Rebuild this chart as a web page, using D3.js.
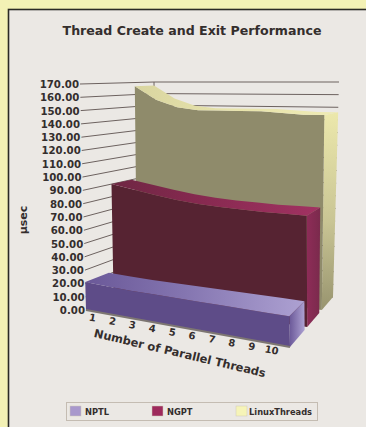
<!DOCTYPE html>
<html>
<head>
<meta charset="utf-8">
<script src="https://cdn.jsdelivr.net/npm/d3@7"></script>
<style>
html,body{margin:0;padding:0;background:#f3f1b5;}
svg{display:block;}
text{font-family:"DejaVu Sans",sans-serif;fill:#342e2d;}
</style>
</head>
<body>
<svg id="chart" width="366" height="427"></svg>
<script>
// Thread counts along the floor and creation/exit cost in microseconds per library.
const threads = [1, 2, 3, 4, 5, 6, 7, 8, 9, 10];
const nptl = [21, 20.5, 20, 20, 20, 20, 20, 20, 20, 20];
const ngpt = [90, 87, 84, 81.5, 80, 79, 78.5, 78, 78, 78];
const linuxThreads = [167, 156, 150, 148, 148, 148, 148, 147, 146, 146];
const yTicks = d3.range(0, 171, 10);
const seriesNames = ["NPTL", "NGPT", "LinuxThreads"];

const W = 366, H = 427;
const svg = d3.select("#chart");

// Screen corners of the 3D plot box; everything is projected through these.
const corners = {
  flb: [86, 310], frb: [290, 347], blb: [155, 279], brb: [333, 297],
  flt: [80, 84],  frt: [284, 86],  blt: [154, 82],  brt: [339, 82]
};
const tScale = d3.scalePoint().domain(threads).range([0, 1]);
const vScale = d3.scaleLinear().domain([0, 170]).range([0, 1]);
const lerp = (a, b, k) => [a[0] + (b[0] - a[0]) * k, a[1] + (b[1] - a[1]) * k];

function project(thread, value, depth) {
  const t = tScale(thread), v = vScale(value);
  const bottom = lerp(lerp(corners.flb, corners.frb, t), lerp(corners.blb, corners.brb, t), depth);
  const top = lerp(lerp(corners.flt, corners.frt, t), lerp(corners.blt, corners.brt, t), depth);
  return lerp(bottom, top, v);
}

const defs = svg.append("defs");
function gradient(id, x2, y2, stops) {
  const g = defs.append("linearGradient").attr("id", id)
    .attr("x1", 0).attr("y1", 0).attr("x2", x2).attr("y2", y2);
  stops.forEach(([o, c]) => g.append("stop").attr("offset", o).attr("stop-color", c));
}
gradient("topPurple", 1, 0, [[0, "#6a5898"], [0.45, "#8475b0"], [1, "#ada1d2"]]);
gradient("sidePurple", 1, 0, [[0, "#6a5898"], [1, "#ada1d2"]]);
gradient("topMaroon", 1, 0, [[0, "#6e2743"], [0.4, "#85294f"], [1, "#a23262"]]);
gradient("sideMaroon", 1, 0, [[0, "#8e2c58"], [1, "#7a2a4c"]]);
gradient("topYellow", 1, 0, [[0, "#d9d5a0"], [0.5, "#e8e4ac"], [1, "#eeeab4"]]);
gradient("sideYellow", 0, 1, [[0, "#ece8ac"], [0.55, "#c9c594"], [1, "#98946f"]]);

// Page background and panel, which runs off the right and bottom edges
svg.append("rect").attr("width", W).attr("height", H).attr("fill", "#f3f1b5");
svg.append("rect").attr("x", 8.5).attr("y", 9.5).attr("width", 380).attr("height", 440)
  .attr("fill", "#ebe8e4").attr("stroke", "#2b2a25").attr("stroke-width", 1.6);

svg.append("text").attr("x", 192).attr("y", 35).attr("text-anchor", "middle")
  .attr("font-size", 12.6).attr("font-weight", "bold").text("Thread Create and Exit Performance");

// Wall grid lines: side wall from the front-left tick, then the back wall.
const pathLine = d3.line();
const grid = svg.append("g").attr("fill", "none").attr("stroke", "#6d625f").attr("stroke-width", 1);
yTicks.forEach(v => {
  grid.append("path").attr("d", pathLine([project(1, v, 0), project(1, v, 1), project(10, v, 1)]));
});
// Corner post of the back wall
grid.append("path").attr("d", pathLine([project(1, 0, 1), project(1, 170, 1)]));

// Value labels
svg.append("g").selectAll("text").data(yTicks).join("text")
  .attr("x", v => project(1, v, 0)[0] - 1)
  .attr("y", v => project(1, v, 0)[1] + 4)
  .attr("text-anchor", "end").attr("font-size", 10.2).attr("font-weight", "600")
  .text(v => v.toFixed(2));

svg.append("text").attr("transform", "translate(27,220) rotate(-90)")
  .attr("text-anchor", "middle").attr("font-size", 11).attr("font-weight", "bold").text("µsec");

// One extruded ribbon per series, drawn from back to front.
const ribbons = [
  { values: linuxThreads, d0: 0.74, d1: 1, front: "#8f8b6b", top: "url(#topYellow)", side: "url(#sideYellow)" },
  { values: ngpt, d0: 0.40, d1: 0.68, front: "#562332", top: "url(#topMaroon)", side: "url(#sideMaroon)" },
  { values: nptl, d0: 0, d1: 0.34, front: "#5e4c88", top: "url(#topPurple)", side: "url(#sidePurple)" }
];
const plot = svg.append("g");
ribbons.forEach(r => {
  const frontTop = threads.map((t, i) => project(t, r.values[i], r.d0));
  const backTop = threads.map((t, i) => project(t, r.values[i], r.d1));
  const last = threads.length - 1, tLast = threads[last], vLast = r.values[last];
  // right end cap
  plot.append("path").attr("fill", r.side).attr("d", pathLine([
    project(tLast, vLast, r.d0), project(tLast, vLast, r.d1),
    project(tLast, 0, r.d1), project(tLast, 0, r.d0)]) + "Z");
  // front face
  plot.append("path").attr("fill", r.front).attr("d", pathLine([
    ...frontTop, project(tLast, 0, r.d0), project(threads[0], 0, r.d0)]) + "Z");
  // top surface
  plot.append("path").attr("fill", r.top).attr("d", pathLine([
    ...frontTop, ...backTop.slice().reverse()]) + "Z");
});

// Floor front edge with thread-count labels
svg.append("path").attr("fill", "none").attr("stroke", "#7d7672").attr("stroke-width", 1.8)
  .attr("d", pathLine([project(1, 0, 0), project(10, 0, 0)]));
const xLabelX = d3.scalePoint().domain(threads).range([92, 271]);
const frontSlope = (corners.frb[1] - corners.flb[1]) / (corners.frb[0] - corners.flb[0]);
const angle = Math.atan(frontSlope) * 180 / Math.PI;
const labelY = t => corners.flb[1] + (xLabelX(t) - corners.flb[0]) * frontSlope + 10;
svg.append("g").selectAll("text").data(threads).join("text")
  .attr("transform", t => `translate(${xLabelX(t)},${labelY(t)}) rotate(${angle})`)
  .attr("text-anchor", "middle").attr("font-size", 10).attr("font-weight", "600").text(t => t);

svg.append("text").attr("transform", `translate(179,357) rotate(${angle + 3})`)
  .attr("text-anchor", "middle").attr("font-size", 11.4).attr("font-weight", "bold")
  .text("Number of Parallel Threads");

// Legend
const legendX = [70, 152, 236];
const legendTextX = [85, 167, 249];
const legendFill = ["#a898cc", "#9e2a5c", "#f6f4b8"];
const legend = svg.append("g");
legend.append("rect").attr("x", 66.5).attr("y", 402.5).attr("width", 251).attr("height", 18)
  .attr("fill", "#ebe8e4").attr("stroke", "#c4bcb2");
seriesNames.forEach((name, i) => {
  legend.append("rect").attr("x", legendX[i]).attr("y", 406).attr("width", 11).attr("height", 10)
    .attr("fill", legendFill[i]).attr("stroke", "#cfc8b8").attr("stroke-width", 0.5);
  legend.append("text").attr("x", legendTextX[i]).attr("y", 415)
    .attr("font-size", 8.3).attr("font-weight", "bold").text(name);
});
</script>
</body>
</html>
